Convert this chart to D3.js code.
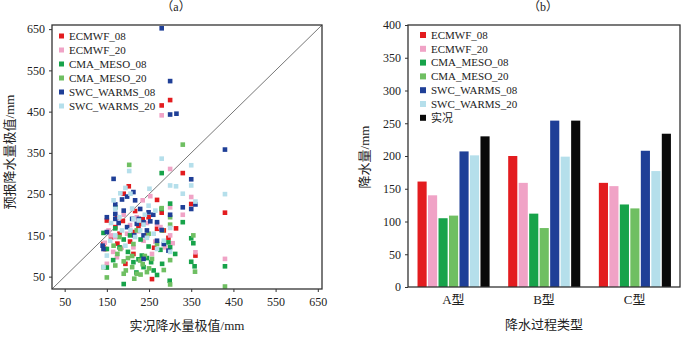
<!DOCTYPE html>
<html>
<head>
<meta charset="utf-8">
<script src="https://cdn.jsdelivr.net/npm/d3@7"></script>
<style>
  html, body { margin: 0; padding: 0; background: #fff; }
  svg text { font-family: "Liberation Serif", "Times New Roman", "Noto Sans CJK SC", serif; fill: #222; }
</style>
</head>
<body>
<svg id="chart" width="700" height="343"></svg>
<script>
// ---- data ----
const seriesNames = ["ECMWF_08", "ECMWF_20", "CMA_MESO_08", "CMA_MESO_20", "SWC_WARMS_08", "SWC_WARMS_20"];
const seriesColors = ["#e31c1f", "#f0a3c6", "#17a34a", "#6fbf62", "#1f3f97", "#b5dfeb"];
const obsName = "实况";
const obsColor = "#0a0a0a";

// panel (a): observed extreme (x) vs forecast extreme (y), mm
const ecmwf08 = [[280,465],[300,478],[330,301],[430,205],[350,226],[360,101],[314,167],[269,236],[280,205],[249,194],[202,269],[190,251],[217,209],[235,189],[269,166],[285,162],[174,194],[150,186],[170,170],[180,154],[142,129],[213,158],[245,150],[146,117],[194,81],[257,44],[296,144],[213,105],[188,185],[225,170],[160,145],[230,178],[205,135],[262,120],[175,130]];
const ecmwf20 = [[280,441],[300,311],[330,200],[350,243],[360,109],[430,93],[253,245],[235,235],[300,218],[170,146],[198,154],[237,137],[269,178],[277,170],[154,162],[150,81],[213,121],[288,121],[257,105],[306,131],[174,97],[221,194],[190,200],[145,132],[160,150],[185,120],[225,160],[245,180],[205,175],[165,110],[300,150],[265,135]];
const cma08 = [[280,301],[300,227],[330,182],[430,75],[350,143],[355,131],[350,86],[358,75],[142,156],[150,117],[170,167],[170,218],[190,32],[233,101],[213,85],[237,73],[261,65],[269,54],[277,115],[281,81],[299,40],[312,105],[300,121],[296,133],[249,123],[180,121],[205,150],[280,214],[150,72],[165,90],[225,92],[200,110],[220,60],[245,95],[190,140],[230,140],[255,85]];
const cma20 = [[330,370],[203,321],[300,31],[430,26],[359,62],[355,150],[300,194],[300,90],[285,66],[170,77],[142,73],[150,48],[190,57],[190,87],[210,73],[221,57],[229,89],[245,61],[257,93],[213,129],[182,117],[180,146],[166,125],[221,162],[249,154],[269,129],[281,162],[200,95],[215,45],[235,80],[240,100],[250,70],[195,65],[230,55],[210,100],[280,216],[175,105],[300,176]];
const swc08 = [[280,652],[300,524],[300,443],[315,445],[430,358],[350,286],[350,214],[360,225],[330,218],[300,200],[280,163],[296,113],[166,287],[213,255],[217,235],[198,244],[186,237],[170,225],[190,210],[170,202],[229,214],[249,206],[210,190],[226,190],[221,178],[237,182],[245,162],[253,184],[269,182],[269,137],[285,129],[198,170],[170,190],[178,180],[150,194],[150,158],[142,117],[237,150],[237,93],[140,125],[215,150],[260,200]];
const swc20 = [[280,336],[350,320],[300,271],[314,269],[330,251],[430,250],[350,271],[360,232],[203,306],[251,263],[194,265],[182,252],[206,251],[166,235],[170,214],[265,210],[249,222],[180,194],[213,190],[226,186],[237,176],[229,162],[206,162],[217,146],[245,144],[261,154],[269,117],[285,137],[300,168],[142,73],[150,101],[170,150],[158,137],[186,162],[194,125],[210,215],[240,200],[160,180],[300,110]];
const scatterSeries = [ecmwf08, ecmwf20, cma08, cma20, swc08, swc20];
const scatterTicks = [50, 150, 250, 350, 450, 550, 650];

// panel (b): mean extreme precipitation by process type, mm
const processTypes = ["A型", "B型", "C型"];
const barEcmwf08 = [161, 200, 159];
const barEcmwf20 = [140, 159, 154];
const barCma08   = [105, 112, 126];
const barCma20   = [109, 90, 120];
const barSwc08   = [207, 254, 208];
const barSwc20   = [201, 199, 177];
const barObs     = [230, 254, 234];
const barTicks = [0, 50, 100, 150, 200, 250, 300, 350, 400];

const svg = d3.select("#chart");
svg.append("rect").attr("width", 700).attr("height", 343).attr("fill", "#fff");

// ================= panel (a) =================
const A = { l: 52, r: 322, t: 25, b: 289 };
const xA = d3.scaleLinear().domain([20, 660]).range([A.l, A.r]);
const yA = d3.scaleLinear().domain([20, 660]).range([A.b, A.t]);
const gA = svg.append("g");

gA.append("g").attr("transform", `translate(0,${A.b})`)
  .call(d3.axisBottom(xA).tickValues(scatterTicks).tickSize(3).tickPadding(5))
  .call(g => g.select(".domain").remove())
  .call(g => g.selectAll("line").attr("stroke", "#333"))
  .call(g => g.selectAll("text").attr("font-size", 12).attr("fill", "#222"));
gA.append("g").attr("transform", `translate(${A.l},0)`)
  .call(d3.axisLeft(yA).tickValues(scatterTicks).tickSize(3).tickPadding(4))
  .call(g => g.select(".domain").remove())
  .call(g => g.selectAll("line").attr("stroke", "#333"))
  .call(g => g.selectAll("text").attr("font-size", 12).attr("fill", "#222"));

// 1:1 reference line
gA.append("line")
  .attr("x1", xA(20)).attr("y1", yA(20))
  .attr("x2", xA(660)).attr("y2", yA(660))
  .attr("stroke", "#777").attr("stroke-width", 1);

const ms = 4.6;
scatterSeries.forEach((pts, i) => {
  gA.append("g").selectAll("rect").data(pts).join("rect")
    .attr("x", d => xA(d[0]) - ms / 2)
    .attr("y", d => yA(d[1]) - ms / 2)
    .attr("width", ms).attr("height", ms)
    .attr("fill", seriesColors[i]);
});

gA.append("rect").attr("x", A.l).attr("y", A.t)
  .attr("width", A.r - A.l).attr("height", A.b - A.t)
  .attr("fill", "none").attr("stroke", "#333").attr("stroke-width", 1.3);

// legend (a)
const legA = gA.append("g").attr("transform", `translate(${A.l + 7},${A.t + 11})`);
seriesNames.forEach((name, i) => {
  const row = legA.append("g").attr("transform", `translate(0,${i * 14})`);
  row.append("rect").attr("x", 0).attr("y", -2.5).attr("width", 5).attr("height", 5).attr("fill", seriesColors[i]);
  row.append("text").attr("x", 10).attr("y", 0).attr("dy", "0.35em").attr("font-size", 11).text(name);
});

gA.append("text").attr("x", 176).attr("y", 11).attr("text-anchor", "middle").attr("font-size", 12).text("（a）");
gA.append("text").attr("x", (A.l + A.r) / 2).attr("y", 330).attr("text-anchor", "middle")
  .attr("font-size", 13).text("实况降水量极值/mm");
gA.append("text").attr("transform", `translate(14,${152}) rotate(-90)`).attr("text-anchor", "middle")
  .attr("font-size", 13).text("预报降水量极值/mm");

// ================= panel (b) =================
const B = { l: 408, r: 680, t: 25, b: 287 };
const barSeries = [barEcmwf08, barEcmwf20, barCma08, barCma20, barSwc08, barSwc20, barObs];
const barNames = seriesNames.concat([obsName]);
const barColors = seriesColors.concat([obsColor]);

const xB = d3.scaleBand().domain(processTypes).range([B.l, B.r]).padding(0);
const bw = xB.bandwidth();
const xSub = d3.scaleBand().domain(d3.range(barSeries.length)).range([bw * 0.105, bw * 0.9]).paddingInner(0.13);
const yB = d3.scaleLinear().domain([0, 400]).range([B.b, B.t]);
const gB = svg.append("g");

gB.append("g").attr("transform", `translate(${B.l},0)`)
  .call(d3.axisLeft(yB).tickValues(barTicks).tickSize(3).tickPadding(4))
  .call(g => g.select(".domain").remove())
  .call(g => g.selectAll("line").attr("stroke", "#333"))
  .call(g => g.selectAll("text").attr("font-size", 12).attr("fill", "#222"));
gB.append("g").attr("transform", `translate(0,${B.b})`)
  .call(d3.axisBottom(xB).tickSize(0).tickPadding(8))
  .call(g => g.select(".domain").remove())
  .call(g => g.selectAll("text").attr("font-size", 13).attr("fill", "#222"));

barSeries.forEach((vals, i) => {
  gB.append("g").selectAll("rect").data(vals).join("rect")
    .attr("x", (d, j) => xB(processTypes[j]) + xSub(i))
    .attr("y", d => yB(d))
    .attr("width", xSub.bandwidth())
    .attr("height", d => yB(0) - yB(d))
    .attr("fill", barColors[i]);
});

gB.append("rect").attr("x", B.l).attr("y", B.t)
  .attr("width", B.r - B.l).attr("height", B.b - B.t)
  .attr("fill", "none").attr("stroke", "#333").attr("stroke-width", 1.3);

const legB = gB.append("g").attr("transform", `translate(${B.l + 12},${B.t + 10})`);
barNames.forEach((name, i) => {
  const row = legB.append("g").attr("transform", `translate(0,${i * 13.8})`);
  row.append("rect").attr("x", 0).attr("y", -3).attr("width", 6).attr("height", 6).attr("fill", barColors[i]);
  row.append("text").attr("x", 11).attr("y", 0).attr("dy", "0.35em").attr("font-size", 11).text(name);
});

gB.append("text").attr("x", 543).attr("y", 11).attr("text-anchor", "middle").attr("font-size", 12).text("（b）");
gB.append("text").attr("x", (B.l + B.r) / 2).attr("y", 329).attr("text-anchor", "middle")
  .attr("font-size", 13).text("降水过程类型");
gB.append("text").attr("transform", `translate(369,${157}) rotate(-90)`).attr("text-anchor", "middle")
  .attr("font-size", 13).text("降水量/mm");
</script>
</body>
</html>
